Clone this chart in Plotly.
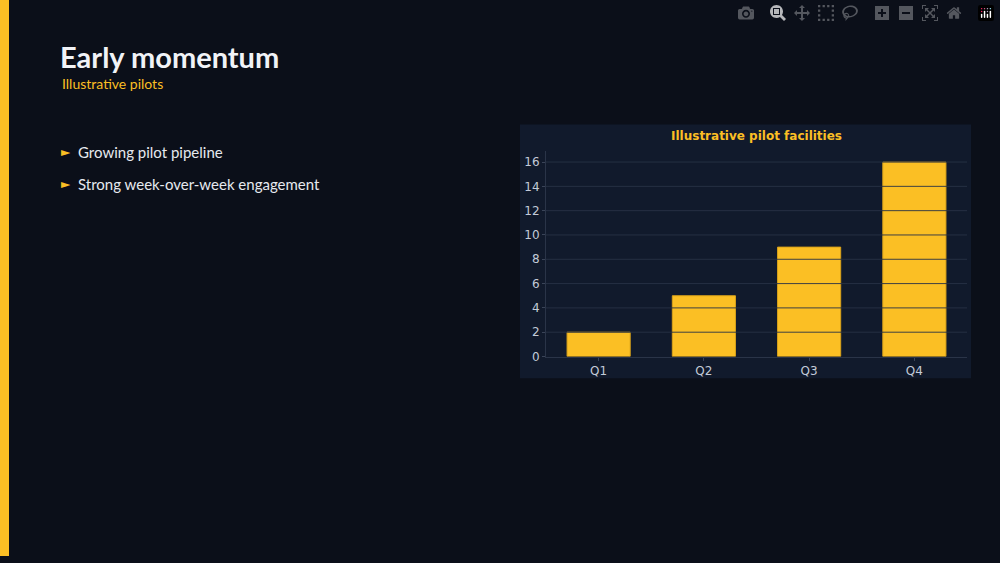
import plotly.graph_objects as go

quarters = ["Q1", "Q2", "Q3", "Q4"]
facilities = [2, 5, 9, 16]
grid_vals = [2, 4, 6, 8, 10, 12, 14, 16]
bullets = ["Growing pilot pipeline", "Strong week-over-week engagement"]

W, H = 1000, 563
BG = "#0b0f19"
PANEL = "#111a2c"
GOLD = "#fbbf24"

def py(v):  # pixel y -> paper
    return 1 - v / H

fig = go.Figure(go.Bar(
    x=quarters, y=facilities, width=0.6,
    marker=dict(color=GOLD, line=dict(color="#d9a21a", width=1)),
))

shapes = [
    dict(type="rect", xref="paper", yref="paper", x0=0, x1=0.009, y0=0, y1=1,
         fillcolor=GOLD, line_width=0, layer="below"),
    dict(type="rect", xref="paper", yref="paper", x0=0.520, x1=0.971,
         y0=py(383), y1=py(126), fillcolor=PANEL, line_width=0, layer="below"),
]
# gridlines drawn over the bars, as in the reference
for g in grid_vals:
    shapes.append(dict(type="line", xref="paper", yref="y", x0=0.546, x1=0.967,
                       y0=g, y1=g, line=dict(color="rgba(40,50,70,0.9)", width=1),
                       layer="above"))

annotations = [
    dict(text="<b>Early momentum</b>", x=0.058, y=py(57), xref="paper", yref="paper",
         xanchor="left", yanchor="middle", showarrow=False,
         font=dict(family="Lato", size=29, color="#f1f3f7")),
    dict(text="Illustrative pilots", x=0.06, y=py(85), xref="paper", yref="paper",
         xanchor="left", yanchor="middle", showarrow=False,
         font=dict(family="Lato", size=14, color=GOLD)),
    dict(text="<b>Illustrative pilot facilities</b>", x=(0.546 + 0.967) / 2, y=py(138),
         xref="paper", yref="paper", xanchor="center", yanchor="middle", showarrow=False,
         font=dict(family="DejaVu Sans", size=12, color=GOLD)),
]
for i, b in enumerate(bullets):
    yy = py(154 + 32 * i)
    annotations.append(dict(text="►", x=0.059, y=yy, xref="paper", yref="paper",
                            xanchor="left", yanchor="middle", showarrow=False,
                            font=dict(family="DejaVu Sans", size=12, color=GOLD)))
    annotations.append(dict(text=b, x=0.076, y=yy, xref="paper", yref="paper",
                            xanchor="left", yanchor="middle", showarrow=False,
                            font=dict(family="Lato", size=15, color="#e6e9ef")))

tick_font = dict(family="DejaVu Sans", size=12, color="#c3cad8")
fig.update_layout(
    width=W, height=H, margin=dict(l=0, r=0, t=0, b=0),
    paper_bgcolor=BG, plot_bgcolor=PANEL, showlegend=False,
    shapes=shapes, annotations=annotations,
    xaxis=dict(domain=[0.546, 0.967], showgrid=False, ticks="outside", ticklen=3,
               tickcolor="#3a4458", showline=True, linecolor="#2a3448",
               tickfont=tick_font),
    yaxis=dict(domain=[py(361), py(153)], range=[0, 16.9], showgrid=False,
               tickvals=[0] + grid_vals, ticks="outside", ticklen=3, tickcolor="#3a4458",
               showline=True, linecolor="#2a3448", zeroline=False,
               tickfont=tick_font),
)

fig.write_html("out.html",
               post_script="document.body.style.margin='0';document.body.style.background='#0b0f19';")
